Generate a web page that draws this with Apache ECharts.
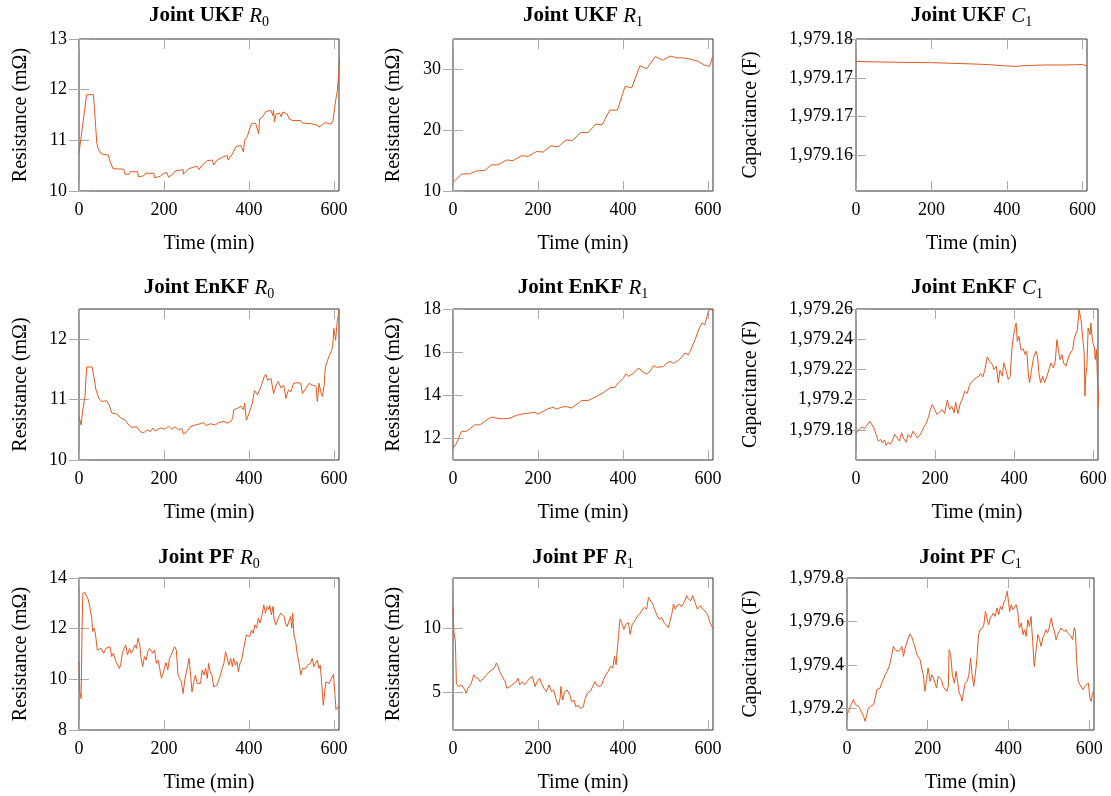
<!DOCTYPE html>
<html>
<head>
<meta charset="utf-8">
<title>Joint estimation of R0, R1, C1</title>
<script src="https://cdn.jsdelivr.net/npm/echarts@6/dist/echarts.min.js"></script>
</head>
<body style="margin:0;background:#fff">
<div id="main" style="width:1111px;height:796px;"></div>
<script>
// ---- data ----
var timeTicks = [0, 200, 400, 600];
var tMax = 612;

// Joint UKF
var ukfR0Time = [0, 3, 18, 34, 42, 46, 53, 69, 72, 80, 105, 109, 117, 121, 138, 140, 152, 156, 176, 178, 191, 199, 207, 211, 223, 227, 245, 246, 258, 278, 282, 290, 302, 314, 317, 325, 341, 349, 351, 361, 369, 381, 384, 387, 390, 396, 403, 408, 416, 420, 423, 425, 432, 440, 452, 456, 458, 460, 464, 472, 476, 480, 490, 495, 503, 522, 526, 546, 561, 565, 573, 580, 593, 598, 604, 608, 614];
var ukfR0Val = [10.75, 10.77, 11.9, 11.9, 10.94, 10.81, 10.73, 10.71, 10.61, 10.44, 10.43, 10.33, 10.33, 10.38, 10.38, 10.28, 10.3, 10.35, 10.35, 10.26, 10.29, 10.35, 10.36, 10.27, 10.35, 10.40, 10.42, 10.33, 10.44, 10.49, 10.42, 10.51, 10.6, 10.61, 10.51, 10.61, 10.68, 10.7, 10.61, 10.73, 10.87, 10.9, 10.93, 10.77, 11.0, 11.07, 11.26, 11.34, 11.33, 11.36, 11.13, 11.42, 11.46, 11.57, 11.59, 11.49, 11.6, 11.36, 11.52, 11.54, 11.46, 11.56, 11.52, 11.42, 11.39, 11.39, 11.34, 11.33, 11.3, 11.26, 11.31, 11.35, 11.32, 11.39, 11.78, 11.97, 12.63];
var ukfR0Ticks = [10, 11, 12, 13];

var ukfR1Time = [0, 20, 39, 55, 75, 90, 106, 126, 141, 161, 177, 197, 212, 230, 248, 266, 281, 300, 318, 336, 351, 369, 387, 405, 421, 440, 456, 476, 494, 511, 527, 542, 558, 578, 589, 597, 604, 611];
var ukfR1Val = [11.4, 12.8, 12.8, 13.3, 13.4, 14.3, 14.3, 15.1, 15.0, 15.8, 15.7, 16.5, 16.4, 17.4, 17.3, 18.4, 18.3, 19.6, 19.6, 21.0, 20.9, 23.3, 23.3, 27.2, 27.0, 30.6, 30.1, 32.1, 31.5, 32.2, 31.9, 31.9, 31.7, 31.3, 30.8, 30.6, 30.5, 32.1];
var ukfR1Ticks = [10, 20, 30];

var ukfC1Time = [0, 100, 200, 300, 350, 390, 410, 425, 440, 470, 500, 550, 600, 612];
var ukfC1Val = [1979.1771, 1979.1770, 1979.17695, 1979.1768, 1979.1767, 1979.17655, 1979.1765, 1979.17645, 1979.17655, 1979.1766, 1979.17665, 1979.17665, 1979.1767, 1979.17655];
var ukfC1Ticks = [1979.165, 1979.17, 1979.175, 1979.18];
var ukfC1Labels = ['1,979.16', '1,979.17', '1,979.17', '1,979.18'];

// Joint EnKF
var enkfR0Time = [0, 5, 9, 14, 18, 22, 31, 35, 40, 47, 53, 65, 71, 77, 89, 100, 109, 117, 124, 136, 144, 152, 160, 168, 174, 179, 191, 202, 211, 218, 226, 234, 242, 246, 254, 258, 262, 274, 285, 293, 299, 309, 321, 329, 341, 349, 357, 362, 364, 374, 382, 387, 390, 394, 400, 408, 413, 420, 428, 436, 440, 444, 452, 458, 464, 469, 476, 482, 487, 493, 499, 505, 515, 522, 526, 534, 542, 550, 558, 561, 565, 569, 573, 577, 580, 588, 593, 597, 600, 604, 608, 613];
var enkfR0Val = [10.72, 10.58, 10.83, 11.05, 11.54, 11.56, 11.54, 11.38, 11.16, 11.02, 10.97, 10.98, 10.91, 10.78, 10.76, 10.69, 10.66, 10.58, 10.54, 10.55, 10.47, 10.45, 10.5, 10.47, 10.53, 10.48, 10.53, 10.51, 10.56, 10.51, 10.55, 10.5, 10.52, 10.43, 10.47, 10.44, 10.55, 10.58, 10.6, 10.62, 10.57, 10.6, 10.58, 10.62, 10.64, 10.61, 10.64, 10.69, 10.83, 10.86, 10.89, 10.83, 10.94, 10.66, 10.77, 10.94, 11.15, 11.08, 11.21, 11.38, 11.42, 11.32, 11.35, 11.1, 11.24, 11.3, 11.19, 11.24, 11.02, 11.16, 11.13, 11.27, 11.28, 11.27, 11.1, 11.19, 11.27, 11.24, 11.22, 10.97, 11.27, 11.13, 11.05, 11.24, 11.54, 11.71, 11.79, 11.87, 12.18, 11.98, 12.31, 12.49];
var enkfR0Ticks = [10, 11, 12];

var enkfR1Time = [0, 6, 12, 20, 31, 39, 51, 63, 75, 86, 93, 102, 118, 134, 149, 165, 181, 193, 200, 212, 224, 236, 244, 255, 267, 279, 283, 295, 303, 318, 330, 346, 358, 369, 381, 389, 401, 407, 413, 424, 432, 439, 444, 456, 464, 472, 479, 495, 503, 511, 519, 531, 538, 546, 554, 558, 562, 570, 578, 586, 593, 597, 601, 605, 613];
var enkfR1Val = [11.55, 11.7, 11.94, 12.33, 12.33, 12.43, 12.63, 12.63, 12.79, 12.94, 12.99, 12.94, 12.91, 12.94, 13.07, 13.14, 13.18, 13.21, 13.13, 13.25, 13.38, 13.44, 13.36, 13.45, 13.48, 13.41, 13.36, 13.64, 13.76, 13.76, 13.87, 14.03, 14.18, 14.34, 14.37, 14.57, 14.8, 15.0, 14.88, 15.0, 15.19, 15.25, 15.12, 14.98, 15.12, 15.37, 15.3, 15.33, 15.49, 15.57, 15.48, 15.62, 15.77, 15.96, 15.88, 16.04, 15.99, 16.58, 17.04, 17.35, 17.27, 17.32, 17.89, 18.0, 17.94];
var enkfR1Ticks = [12, 14, 16, 18];

var enkfC1Time = [0, 4, 9, 15, 21, 26, 30, 35, 39, 45, 51, 56, 62, 66, 72, 76, 81, 87, 93, 98, 104, 110, 115, 121, 127, 132, 138, 144, 150, 155, 161, 165, 172, 178, 184, 188, 193, 199, 205, 211, 218, 224, 231, 237, 242, 248, 252, 258, 264, 270, 275, 281, 287, 292, 298, 304, 311, 315, 321, 326, 332, 338, 345, 349, 355, 360, 364, 370, 374, 380, 385, 390, 394, 398, 401, 405, 408, 412, 417, 423, 428, 432, 436, 439, 444, 449, 455, 459, 463, 467, 472, 477, 483, 488, 493, 499, 504, 508, 512, 516, 521, 525, 531, 537, 542, 548, 552, 556, 560, 564, 569, 573, 577, 579, 581, 584, 587, 592, 594, 598, 603, 605, 608, 611, 615];
var enkfC1Val = [1979.1776, 1979.1791, 1979.1807, 1979.182, 1979.1807, 1979.1824, 1979.1835, 1979.1857, 1979.1846, 1979.1813,
  1979.1769, 1979.1725, 1979.1736, 1979.1714, 1979.1732, 1979.1696, 1979.1718, 1979.1703, 1979.1736, 1979.1769,
  1979.1747, 1979.1725, 1979.178, 1979.174, 1979.1718, 1979.1769, 1979.1747, 1979.1791, 1979.1769, 1979.1747,
  1979.1763, 1979.178, 1979.182, 1979.1846, 1979.189, 1979.1934, 1979.1967, 1979.1934, 1979.1901, 1979.1917,
  1979.1934, 1979.1908, 1979.1996, 1979.1934, 1979.1956, 1979.1912, 1979.1983, 1979.1908, 1979.1978, 1979.2012,
  1979.2056, 1979.204, 1979.2093, 1979.2115, 1979.2133, 1979.2144, 1979.2155, 1979.2172, 1979.215, 1979.2199,
  1979.2283, 1979.2254, 1979.2232, 1979.2199, 1979.2221, 1979.2111, 1979.2194, 1979.2155, 1979.2243, 1979.2188,
  1979.2133, 1979.2155, 1979.2331, 1979.2419, 1979.2463, 1979.2507, 1979.2386, 1979.2419, 1979.2331, 1979.2336,
  1979.2298, 1979.232, 1979.2166, 1979.2111, 1979.2199, 1979.2276, 1979.232, 1979.2287, 1979.2166, 1979.2111,
  1979.2155, 1979.2111, 1979.2155, 1979.2199, 1979.2243, 1979.221, 1979.2254, 1979.2397, 1979.2331, 1979.2265,
  1979.2298, 1979.2243, 1979.2221, 1979.2276, 1979.2309, 1979.2331, 1979.2408, 1979.2397, 1979.2463, 1979.2596,
  1979.2529, 1979.2419, 1979.2309, 1979.2023, 1979.2155, 1979.2221, 1979.2474, 1979.243, 1979.2507, 1979.2386,
  1979.2342, 1979.2265, 1979.2331, 1979.2111, 1979.1934];
var enkfC1Ticks = [1979.18, 1979.2, 1979.22, 1979.24, 1979.26];
var enkfC1Labels = ['1,979.18', '1,979.2', '1,979.22', '1,979.24', '1,979.26'];

// Joint PF
var pfR0Time = [0, 2, 5, 7, 9, 14, 18, 22, 26, 30, 32, 36, 39, 43, 47, 52, 58, 63, 67, 73, 77, 81, 87, 91, 95, 98, 102, 106, 110, 114, 119, 123, 127, 131, 135, 139, 143, 146, 150, 154, 158, 162, 166, 170, 174, 178, 182, 186, 190, 194, 198, 202, 205, 209, 213, 217, 221, 225, 229, 233, 237, 241, 245, 249, 253, 257, 259, 262, 266, 270, 274, 278, 282, 286, 290, 294, 298, 302, 305, 309, 313, 317, 321, 325, 329, 333, 337, 341, 345, 349, 353, 357, 361, 364, 368, 372, 375, 379, 383, 387, 390, 394, 398, 402, 406, 410, 414, 418, 422, 426, 431, 435, 439, 443, 447, 449, 453, 457, 459, 463, 467, 471, 475, 479, 483, 486, 490, 494, 498, 501, 503, 506, 510, 514, 518, 522, 526, 530, 534, 538, 542, 545, 549, 553, 557, 561, 565, 568, 571, 575, 581, 589, 594, 599, 602, 605, 610, 614];
var pfR0Val = [10.7, 9.5, 9.24, 11.75, 13.4, 13.43, 13.37, 13.14, 12.81, 12.41, 11.89, 12.02, 11.75, 11.16, 11.09, 11.22, 11.03, 11.22, 11.29, 11.29, 10.9, 11.03, 10.7, 10.76, 10.43, 10.56, 11.03, 11.22, 11.36, 10.96, 11.22, 11.03, 11.16, 11.36, 11.22, 11.62, 11.36, 10.83, 10.5, 10.9, 10.76, 11.09, 11.22, 11.16, 11.03, 11.16, 10.63, 10.76, 10.43, 10.04, 10.23, 10.5, 10.66, 10.37, 10.83, 10.96, 11.03, 11.29, 11.16, 10.17, 10.04, 9.9, 9.44, 9.97, 9.9, 10.63, 10.83, 10.3, 9.5, 9.9, 10.17, 9.84, 9.9, 9.84, 10.37, 10.17, 10.43, 10.04, 10.63, 10.3, 10.17, 9.7, 9.64, 9.77, 9.97, 10.17, 10.43, 10.63, 11.09, 11.03, 10.56, 10.83, 10.5, 10.83, 10.56, 10.7, 10.3, 10.63, 10.76, 11.16, 11.42, 11.75, 11.82, 11.69, 11.95, 11.82, 12.15, 12.02, 12.41, 12.22, 12.55, 12.94, 12.61, 12.88, 12.75, 12.92, 12.55, 12.88, 12.41, 12.15, 12.08, 12.48, 12.61, 12.55, 12.48, 12.22, 12.08, 12.15, 12.48, 12.02, 12.61, 11.75, 11.49, 10.96, 10.63, 10.17, 10.43, 10.5, 10.43, 10.56, 10.5, 10.63, 10.83, 10.5, 10.63, 10.76, 10.43, 10.56, 9.9, 8.98, 9.9, 9.84, 10.04, 10.2, 9.5, 8.8, 8.92, 8.9];
var pfR0Ticks = [8, 10, 12, 14];

var pfR1Time = [0, 2, 5.5, 8, 12, 20, 28, 31, 35, 43, 49, 53, 59, 64, 71, 79, 86, 93, 98, 102, 106, 110, 116, 122, 127, 134, 141, 149, 153, 157, 163, 169, 174, 181, 187, 193, 198, 204, 208, 214, 220, 226, 232, 237, 242, 248, 252, 254, 258, 263, 269, 275, 279, 285, 289, 295, 300, 307, 310, 316, 322, 329, 334, 338, 344, 350, 354, 360, 365, 371, 376, 380, 384, 387, 390, 393, 397, 402, 407, 413, 417, 422, 428, 434, 439, 444, 450, 456, 460, 464, 470, 476, 481, 486, 491, 497, 501, 507, 511, 515, 519, 523, 527, 533, 538, 544, 550, 554, 560, 564, 570, 575, 582, 588, 593, 599, 605, 612];
var pfR1Val = [11.68, 9.81, 9.02, 5.69, 5.43, 5.56, 5.16, 4.89, 5.29, 5.69, 6.36, 6.14, 6.09, 5.82, 6.04, 6.36, 6.62, 6.76, 6.94, 7.29, 7.02, 6.62, 6.22, 5.88, 5.29, 5.43, 5.61, 5.82, 6.09, 5.56, 5.82, 5.56, 5.82, 6.09, 6.22, 5.43, 5.82, 6.09, 5.69, 5.29, 5.03, 5.56, 5.03, 5.16, 4.49, 3.96, 4.49, 5.43, 4.36, 5.03, 5.16, 4.76, 4.23, 4.36, 3.83, 3.96, 3.7, 3.83, 4.36, 4.89, 5.03, 5.43, 5.82, 5.56, 5.43, 5.56, 5.96, 6.36, 6.62, 7.02, 6.89, 7.82, 7.15, 8.48, 9.55, 10.74, 10.48, 9.95, 10.35, 10.48, 9.55, 10.35, 10.61, 11.01, 11.14, 11.41, 11.68, 11.54, 12.47, 12.34, 11.94, 11.41, 11.01, 10.74, 10.88, 10.48, 10.61, 10.08, 10.61, 11.14, 11.94, 11.54, 11.81, 11.94, 11.73, 12.07, 12.61, 12.34, 12.21, 12.61, 12.07, 11.54, 11.81, 11.54, 11.41, 11.14, 10.48, 10.0];
var pfR1Ticks = [5, 10];

var pfC1Time = [0, 4, 8, 12, 16, 21, 25, 29, 33, 37, 41, 45, 49, 53, 58, 62, 66, 70, 74, 78, 82, 86, 90, 95, 99, 103, 107, 111, 115, 119, 123, 127, 132, 136, 140, 144, 148, 152, 156, 160, 164, 169, 173, 177, 181, 185, 189, 193, 197, 201, 206, 210, 214, 218, 222, 226, 230, 234, 238, 242, 247, 251, 253, 257, 261, 266, 270, 274, 278, 282, 285, 289, 293, 298, 302, 306, 310, 314, 318, 322, 326, 330, 335, 339, 343, 347, 351, 355, 359, 363, 367, 372, 376, 380, 384, 388, 392, 395, 397, 400, 403, 407, 411, 415, 419, 423, 427, 432, 436, 440, 444, 448, 452, 456, 460, 464, 469, 473, 477, 481, 485, 489, 493, 497, 501, 506, 510, 514, 518, 522, 526, 530, 534, 538, 543, 547, 551, 555, 559, 563, 566, 569, 573, 577, 581, 585, 589, 593, 598, 602, 605, 608, 610];
var pfC1Val = [1979.171, 1979.186, 1979.209, 1979.224, 1979.240, 1979.217, 1979.224, 1979.209, 1979.194, 1979.201,
  1979.163, 1979.140, 1979.171, 1979.201, 1979.209, 1979.201, 1979.217, 1979.247, 1979.286, 1979.281,
  1979.293, 1979.316, 1979.324, 1979.355, 1979.370, 1979.386, 1979.409, 1979.447, 1979.485, 1979.470,
  1979.478, 1979.462, 1979.470, 1979.485, 1979.439, 1979.478, 1979.501, 1979.524, 1979.542, 1979.531,
  1979.508, 1979.478, 1979.447, 1979.455, 1979.424, 1979.386, 1979.355, 1979.278, 1979.332, 1979.386,
  1979.324, 1979.355, 1979.340, 1979.316, 1979.293, 1979.347, 1979.355, 1979.332, 1979.301, 1979.293,
  1979.278, 1979.301, 1979.470, 1979.447, 1979.355, 1979.316, 1979.370, 1979.324, 1979.270, 1979.255,
  1979.232, 1979.278, 1979.316, 1979.324, 1979.355, 1979.432, 1979.355, 1979.301, 1979.355, 1979.432,
  1979.539, 1979.562, 1979.567, 1979.585, 1979.646, 1979.639, 1979.585, 1979.616, 1979.608, 1979.639,
  1979.623, 1979.662, 1979.631, 1979.669, 1979.654, 1979.685, 1979.700, 1979.723, 1979.739, 1979.693,
  1979.646, 1979.677, 1979.654, 1979.662, 1979.677, 1979.646, 1979.570, 1979.593, 1979.539, 1979.562,
  1979.531, 1979.608, 1979.577, 1979.623, 1979.508, 1979.393, 1979.478, 1979.539, 1979.516, 1979.485,
  1979.524, 1979.539, 1979.562, 1979.547, 1979.570, 1979.616, 1979.577, 1979.554, 1979.516, 1979.539,
  1979.554, 1979.570, 1979.562, 1979.554, 1979.562, 1979.547, 1979.554, 1979.531, 1979.516, 1979.570,
  1979.554, 1979.416, 1979.324, 1979.309, 1979.301, 1979.286, 1979.301, 1979.293, 1979.316, 1979.247,
  1979.232, 1979.263, 1979.278];
var pfC1Ticks = [1979.2, 1979.4, 1979.6, 1979.8];
var pfC1Labels = ['1,979.2', '1,979.4', '1,979.6', '1,979.8'];

// ---- chart ----
var chart = echarts.init(document.getElementById('main'));
var serif = 'Liberation Serif';
var lineColor = '#e25a1e';
var resName = 'Resistance (m\u03a9)';
var capName = 'Capacitance (F)';

// rect = [left, top, width, height] of the plot box
var panels = [
  {algo: 'UKF', sym: 'R', sub: '0', yName: resName, t: ukfR0Time, v: ukfR0Val, yMin: 10, yMax: 13, ticks: ukfR0Ticks, rect: [79, 39, 260, 152], titleTop: 3, nameGap: 48, margin: 12},
  {algo: 'UKF', sym: 'R', sub: '1', yName: resName, t: ukfR1Time, v: ukfR1Val, yMin: 10, yMax: 35, ticks: ukfR1Ticks, rect: [453, 39, 260, 152], titleTop: 3, nameGap: 49, margin: 12},
  {algo: 'UKF', sym: 'C', sub: '1', yName: capName, t: ukfC1Time, v: ukfC1Val, yMin: 1979.1604, yMax: 1979.18, ticks: ukfC1Ticks, labels: ukfC1Labels, rect: [856, 39, 231, 152], titleTop: 3, nameGap: 95, margin: 3},
  {algo: 'EnKF', sym: 'R', sub: '0', yName: resName, t: enkfR0Time, v: enkfR0Val, yMin: 10, yMax: 12.5, ticks: enkfR0Ticks, rect: [79, 309, 260, 151], titleTop: 275, nameGap: 48, margin: 12},
  {algo: 'EnKF', sym: 'R', sub: '1', yName: resName, t: enkfR1Time, v: enkfR1Val, yMin: 11, yMax: 18, ticks: enkfR1Ticks, rect: [453, 309, 260, 151], titleTop: 275, nameGap: 49, margin: 12},
  {algo: 'EnKF', sym: 'C', sub: '1', yName: capName, t: enkfC1Time, v: enkfC1Val, yMin: 1979.16, yMax: 1979.26, ticks: enkfC1Ticks, labels: enkfC1Labels, rect: [856, 309, 242, 151], titleTop: 275, nameGap: 95, margin: 3},
  {algo: 'PF', sym: 'R', sub: '0', yName: resName, t: pfR0Time, v: pfR0Val, yMin: 8, yMax: 14, ticks: pfR0Ticks, rect: [79, 578, 260, 152], titleTop: 545, nameGap: 48, margin: 12},
  {algo: 'PF', sym: 'R', sub: '1', yName: resName, t: pfR1Time, v: pfR1Val, yMin: 2, yMax: 14, ticks: pfR1Ticks, rect: [453, 578, 260, 152], titleTop: 545, nameGap: 49, margin: 12},
  {algo: 'PF', sym: 'C', sub: '1', yName: capName, t: pfC1Time, v: pfC1Val, yMin: 1979.1, yMax: 1979.8, ticks: pfC1Ticks, labels: pfC1Labels, rect: [847, 578, 247, 152], titleTop: 545, nameGap: 86, margin: 3}
];

function tickStyle(values) {
  return {inside: true, length: 10, customValues: values, lineStyle: {color: '#aaa', width: 1}};
}

// looks up the printed label of a tick; the thousands comma gets a small gap after it, like the typeset original
function labelFormatter(ticks, labels) {
  return function (val) {
    for (var k = 0; k < ticks.length; k++) {
      if (Math.abs(val - ticks[k]) < 1e-7) {
        var s = labels ? labels[k] : String(ticks[k]);
        return s.replace(',', '{c|,}');
      }
    }
    return '';
  };
}

var nameStyle = {fontFamily: serif, fontSize: 20, color: '#000'};
var labelStyle = {fontFamily: serif, fontSize: 18, color: '#000'};

var option = {
  animation: false,
  backgroundColor: '#fff',
  title: [],
  grid: [],
  xAxis: [],
  yAxis: [],
  series: []
};

panels.forEach(function (p, i) {
  var r = p.rect;
  option.grid.push({left: r[0], top: r[1], width: r[2], height: r[3], show: true, borderColor: '#333', borderWidth: 1});
  option.title.push({
    text: '{b|Joint ' + p.algo + ' }{i|' + p.sym + '}{s|' + p.sub + '}',
    left: r[0] + r[2] / 2,
    top: p.titleTop,
    textAlign: 'center',
    padding: 0,
    textStyle: {
      rich: {
        b: {fontFamily: serif, fontWeight: 'bold', fontSize: 21, lineHeight: 26, color: '#000'},
        i: {fontFamily: serif, fontStyle: 'italic', fontWeight: 'normal', fontSize: 21, lineHeight: 26, color: '#000'},
        s: {fontFamily: serif, fontWeight: 'normal', fontSize: 14, lineHeight: 14, verticalAlign: 'bottom', color: '#000'}
      }
    }
  });

  // bottom and top x axes
  option.xAxis.push({
    type: 'value', gridIndex: i, position: 'bottom', min: 0, max: tMax,
    name: 'Time (min)', nameLocation: 'middle', nameGap: 43, nameTextStyle: nameStyle,
    axisLine: {show: false}, axisTick: tickStyle(timeTicks), splitLine: {show: false},
    axisLabel: Object.assign({customValues: timeTicks, margin: 10}, labelStyle)
  });
  option.xAxis.push({
    type: 'value', gridIndex: i, position: 'top', min: 0, max: tMax,
    axisLine: {show: false}, axisTick: tickStyle(timeTicks), splitLine: {show: false},
    axisLabel: {show: false}
  });

  // left and right y axes
  option.yAxis.push({
    type: 'value', gridIndex: i, position: 'left', min: p.yMin, max: p.yMax,
    name: p.yName, nameLocation: 'middle', nameGap: p.nameGap, nameTextStyle: nameStyle,
    axisLine: {show: false}, axisTick: tickStyle(p.ticks), splitLine: {show: false},
    axisLabel: Object.assign({
      customValues: p.ticks, margin: p.margin,
      formatter: labelFormatter(p.ticks, p.labels),
      rich: {c: {fontFamily: serif, fontSize: 18, color: '#000', padding: [0, 1, 0, 0]}}
    }, labelStyle)
  });
  option.yAxis.push({
    type: 'value', gridIndex: i, position: 'right', min: p.yMin, max: p.yMax,
    axisLine: {show: false}, axisTick: tickStyle(p.ticks), splitLine: {show: false},
    axisLabel: {show: false}
  });

  var pts = p.t.map(function (tt, k) { return [tt, p.v[k]]; });
  option.series.push({
    type: 'line', xAxisIndex: 2 * i, yAxisIndex: 2 * i, data: pts,
    showSymbol: false, symbol: 'none', clip: true,
    lineStyle: {color: lineColor, width: 1}, itemStyle: {color: lineColor}
  });
});

chart.setOption(option);
</script>
</body>
</html>
